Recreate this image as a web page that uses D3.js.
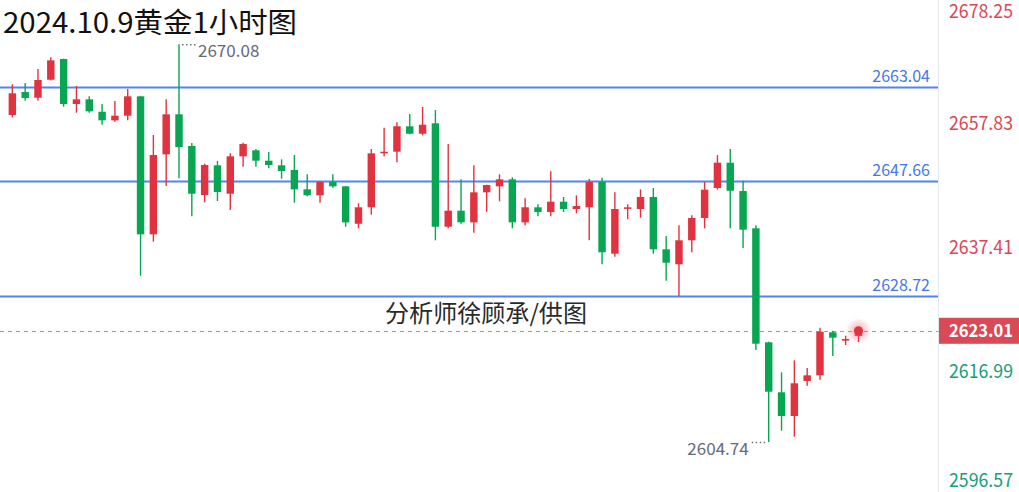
<!DOCTYPE html>
<html><head><meta charset="utf-8">
<script src="https://cdn.jsdelivr.net/npm/d3@7"></script>
<style>body{margin:0;background:#fff}svg{display:block}</style>
</head><body>
<svg id="chart" width="1019" height="492"></svg>
<script>
const titleText = "2024.10.9黄金1小时图";
const watermarkText = "分析师徐顾承/供图";
const opens = [2658.44,2662.22,2661.28,2664.24,2667.64,2660.25,2661.02,2658.98,2657.57,2658.33,
2661.51,2638.85,2651.99,2658.56,2653.35,2645.31,2650.18,2645.52,2651.66,2652.65,
2650.94,2650.18,2649.41,2646.24,2645.26,2647.44,2646.73,2640.59,2643.29,2652.15,
2652.42,2656.59,2655.37,2657.08,2640.10,2642.73,2640.82,2645.75,2646.73,2647.88,
2640.82,2643.29,2642.51,2644.21,2643.01,2643.29,2647.44,2635.67,2643.12,2643.01,
2644.98,2636.39,2633.93,2637.87,2641.53,2646.46,2650.61,2645.96,2639.84,2621.12,
2612.91,2609.02,2614.77,2615.70,2622.76,2621.55,2622.15];
const highs = [2663.48,2663.70,2666.00,2667.92,2667.70,2663.20,2661.51,2660.25,2660.74,2662.71,
2661.60,2655.16,2661.02,2670.08,2653.84,2650.45,2650.89,2652.15,2653.89,2652.86,
2652.37,2651.17,2651.87,2648.71,2647.55,2648.71,2646.80,2643.94,2652.86,2656.36,
2657.24,2658.61,2659.76,2659.26,2653.68,2647.88,2650.18,2647.00,2648.71,2648.21,
2644.76,2643.78,2649.20,2644.98,2645.26,2647.93,2648.15,2645.75,2643.78,2646.24,
2646.46,2638.57,2640.33,2641.97,2647.44,2651.87,2652.86,2647.65,2640.33,2621.20,
2616.19,2618.16,2616.90,2623.52,2623.02,2622.20,2623.47];
const lows = [2658.06,2660.79,2660.79,2664.10,2659.81,2658.82,2658.82,2656.85,2657.34,2657.57,
2632.06,2637.64,2646.78,2648.05,2641.81,2644.11,2644.32,2642.84,2649.95,2649.95,
2649.69,2647.98,2644.04,2645.10,2644.04,2646.51,2640.10,2639.84,2642.07,2651.66,
2650.68,2655.30,2655.11,2637.87,2639.84,2640.59,2639.12,2642.56,2644.27,2639.84,
2640.33,2641.81,2641.81,2642.51,2642.30,2637.87,2633.93,2635.17,2641.32,2641.58,
2635.67,2631.23,2628.72,2635.90,2639.84,2646.18,2639.84,2636.60,2619.86,2604.74,
2606.60,2605.62,2613.99,2614.98,2618.87,2620.68,2621.17];
const closes = [2662.01,2661.23,2664.19,2667.42,2660.25,2661.02,2659.05,2657.57,2658.33,2661.51,
2638.85,2651.87,2658.56,2653.19,2645.52,2650.23,2645.80,2651.66,2653.68,2650.94,
2650.23,2649.25,2646.24,2645.26,2647.44,2646.73,2640.82,2643.29,2652.15,2652.42,
2656.59,2655.37,2656.85,2640.10,2642.73,2640.82,2645.75,2646.95,2647.88,2640.82,
2643.29,2642.51,2644.21,2643.01,2643.50,2647.44,2635.90,2643.01,2643.29,2644.98,
2636.39,2634.19,2637.87,2641.53,2646.18,2650.61,2646.01,2639.61,2620.89,2613.01,
2609.02,2614.39,2615.70,2622.86,2621.88,2621.66,2623.01];
const axisTicks = [2678.25, 2657.83, 2637.41, 2616.99, 2596.57];
const levelLines = [2663.04, 2647.66, 2628.72];
const lastPrice = 2623.01;
const highMark = 2670.08;
const lowMark = 2604.74;

const candles = opens.map((o, i) => ({i, o, h: highs[i], l: lows[i], c: closes[i]}));

const W = 1019, H = 492, plotRight = 938.5;
const RED = "#e1333f", GREEN = "#08a651";
const FONT = "'Noto Sans CJK SC','Noto Sans',sans-serif";

const svg = d3.select("#chart");
const x = d3.scaleBand().domain(candles.map(d => d.i)).range([3.25, 867.55]).padding(0.42);
const y = d3.scaleLinear().domain([2596.57, 2678.25]).range([491.8, -5.6]);
const cx = i => x(i) + x.bandwidth() / 2;

// right axis separator
svg.append("line").attr("x1", plotRight).attr("x2", plotRight).attr("y1", 0).attr("y2", H)
  .attr("stroke", "#e6e8ef").attr("stroke-width", 1);

// level lines
const lv = svg.append("g");
lv.selectAll("line").data(levelLines).join("line")
  .attr("x1", 0).attr("x2", plotRight - 0.5)
  .attr("y1", d => Math.round(y(d)) + 0.5).attr("y2", d => Math.round(y(d)) + 0.5)
  .attr("stroke", "#4f86f2").attr("stroke-width", 1.8);
lv.selectAll("text").data(levelLines).join("text")
  .attr("x", 930).attr("y", d => y(d) - 5)
  .attr("text-anchor", "end").attr("font-family", FONT).attr("font-size", 16)
  .attr("fill", "#4478e6").text(d => d.toFixed(2));

// last price dashed line
svg.append("line").attr("x1", 0).attr("x2", plotRight)
  .attr("y1", Math.round(y(lastPrice)) + 0.5).attr("y2", Math.round(y(lastPrice)) + 0.5)
  .attr("stroke", "#d9838b").attr("stroke-width", 1).attr("stroke-dasharray", "4,4");

// watermark
svg.append("text").attr("x", 385).attr("y", 322).attr("font-family", FONT)
  .attr("font-size", 24).attr("fill", "#2a2a2a")
  .attr("textLength", 202).attr("lengthAdjust", "spacingAndGlyphs").text(watermarkText);

// candles
const g = svg.append("g");
g.selectAll("line.wick").data(candles).join("line").attr("class", "wick")
  .attr("x1", d => cx(d.i)).attr("x2", d => cx(d.i))
  .attr("y1", d => y(d.h)).attr("y2", d => y(d.l))
  .attr("stroke", d => d.c >= d.o ? RED : GREEN).attr("stroke-width", 1.4);
g.selectAll("rect").data(candles).join("rect")
  .attr("x", d => x(d.i)).attr("width", x.bandwidth())
  .attr("y", d => y(Math.max(d.o, d.c)))
  .attr("height", d => Math.max(1.6, Math.abs(y(d.o) - y(d.c))))
  .attr("fill", d => d.c >= d.o ? RED : GREEN);

// glow dot on last candle
const defs = svg.append("defs");
const rg = defs.append("radialGradient").attr("id", "glow");
rg.append("stop").attr("offset", "0%").attr("stop-color", "#f06070").attr("stop-opacity", 0.55);
rg.append("stop").attr("offset", "100%").attr("stop-color", "#f06070").attr("stop-opacity", 0);
const last = candles[candles.length - 1];
svg.append("circle").attr("cx", cx(last.i)).attr("cy", y(last.c)).attr("r", 13).attr("fill", "url(#glow)");
svg.append("circle").attr("cx", cx(last.i)).attr("cy", y(last.c)).attr("r", 4.5).attr("fill", RED);

// high / low markers
const hiC = candles.find(d => d.h === highMark);
const loC = candles.find(d => d.l === lowMark);
svg.append("line").attr("x1", cx(hiC.i) + 3).attr("x2", cx(hiC.i) + 17)
  .attr("y1", y(highMark) + 0.5).attr("y2", y(highMark) + 0.5)
  .attr("stroke", "#6b6f7c").attr("stroke-width", 1.5).attr("stroke-dasharray", "1.5,2.5");
svg.append("text").attr("x", cx(hiC.i) + 19).attr("y", y(highMark) + 12.5)
  .attr("font-family", FONT).attr("font-size", 17).attr("fill", "#666a78").text(highMark.toFixed(2));
svg.append("line").attr("x1", cx(loC.i) - 17).attr("x2", cx(loC.i) - 2)
  .attr("y1", y(lowMark) + 0.5).attr("y2", y(lowMark) + 0.5)
  .attr("stroke", "#6b6f7c").attr("stroke-width", 1.5).attr("stroke-dasharray", "1.5,2.5");
svg.append("text").attr("x", cx(loC.i) - 20).attr("y", y(lowMark) + 13)
  .attr("text-anchor", "end").attr("font-family", FONT).attr("font-size", 17)
  .attr("fill", "#666a78").text(lowMark.toFixed(2));

// right axis labels
svg.selectAll("text.tick").data(axisTicks).join("text").attr("class", "tick")
  .attr("x", 1013).attr("y", d => Math.max(18, Math.min(487, y(d) + 11)))
  .attr("text-anchor", "end").attr("font-family", FONT).attr("font-size", 19)
  .attr("textLength", 64).attr("lengthAdjust", "spacingAndGlyphs")
  .attr("fill", d => d > lastPrice ? "#de4655" : "#14a07b").text(d => d.toFixed(2));

// last price tag
svg.append("rect").attr("x", 939).attr("y", y(lastPrice) - 13).attr("width", 80).attr("height", 26)
  .attr("fill", "#d94a56");
svg.append("text").attr("x", 1013).attr("y", y(lastPrice) + 6.5)
  .attr("text-anchor", "end").attr("font-family", FONT).attr("font-size", 18).attr("font-weight", "bold")
  .attr("textLength", 64).attr("lengthAdjust", "spacingAndGlyphs")
  .attr("fill", "#fff").text(lastPrice.toFixed(2));

// title
svg.append("text").attr("x", 3).attr("y", 33).attr("font-family", FONT)
  .attr("font-size", 28).attr("fill", "#111")
  .attr("textLength", 294).attr("lengthAdjust", "spacingAndGlyphs").text(titleText);
</script>
</body></html>
